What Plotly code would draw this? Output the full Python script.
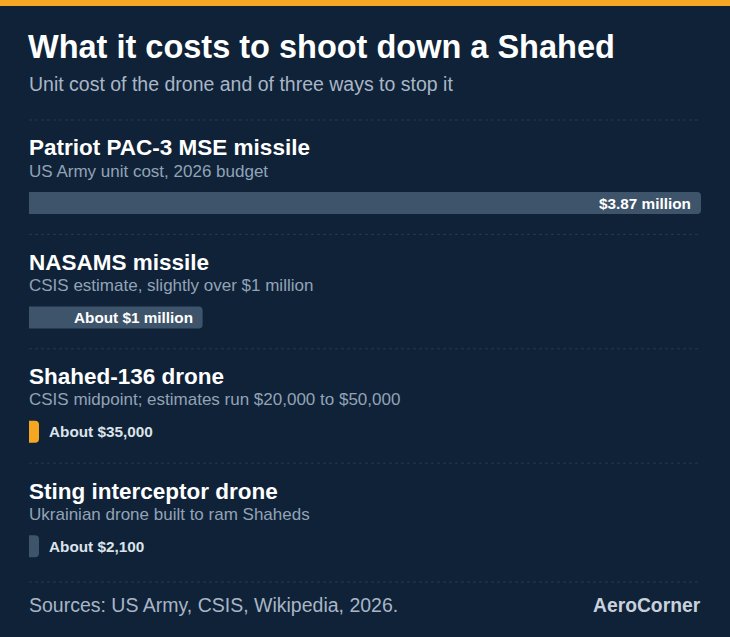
import plotly.graph_objects as go

names = ["Patriot PAC-3 MSE missile", "NASAMS missile", "Shahed-136 drone", "Sting interceptor drone"]
notes = ["US Army unit cost, 2026 budget", "CSIS estimate, slightly over $1 million",
         "CSIS midpoint; estimates run $20,000 to $50,000", "Ukrainian drone built to ram Shaheds"]
costs = [3870000, 1000000, 35000, 2100]
labels = ["$3.87 million", "About $1 million", "About $35,000", "About $2,100"]
colors = ["#3e546b", "#3e546b", "#f5a623", "#3e546b"]

W, H = 730, 637
BG = "#0f2238"
x0, x1 = 29, 701
tx = (x0 - 2) / W
row0, step = 148, 114.4
xmax = max(costs)
minw = xmax * 10 / (x1 - x0)  # minimum visible bar width (10 px)

bar_y = [row0 + 55 + i * step for i in range(len(costs))]
fig = go.Figure(go.Bar(
    x=[max(c, minw) for c in costs], y=bar_y, orientation="h", width=22,
    marker=dict(color=colors, line=dict(width=0)), hoverinfo="skip"))

def py(p):
    return 1 - p / H

ann = []
shapes = [dict(type="rect", xref="paper", yref="paper", x0=0, x1=1, y0=py(6), y1=1,
               fillcolor="#f5a623", line=dict(width=0))]
ann.append(dict(text="<b>What it costs to shoot down a Shahed</b>", x=tx - 0.002, y=py(47),
                font=dict(size=32.5, color="white")))
ann.append(dict(text="Unit cost of the drone and of three ways to stop it", x=tx, y=py(84),
                font=dict(size=19.5, color="#a9b6c6")))
for i, (n, s, c, l) in enumerate(zip(names, notes, costs, labels)):
    top = row0 + i * step
    shapes.append(dict(type="line", xref="paper", yref="paper", x0=x0 / W, x1=x1 / W,
                       y0=py(top - 28), y1=py(top - 28), line=dict(color="#26384f", width=1, dash="dot")))
    ann.append(dict(text=f"<b>{n}</b>", x=tx, y=py(top), font=dict(size=22.5, color="white")))
    ann.append(dict(text=s, x=tx, y=py(top + 23), font=dict(size=17, color="#93a3b6")))
    if i < 2:
        ann.append(dict(text=f"<b>{l}</b>", xref="x", yref="y", x=c, y=bar_y[i], xanchor="right",
                        xshift=-8, yanchor="middle", font=dict(size=15.3, color="white"), showarrow=False))
    else:
        ann.append(dict(text=f"<b>{l}</b>", xref="x", yref="y", x=max(c, minw), y=bar_y[i], xanchor="left",
                        xshift=8, yanchor="middle", font=dict(size=15.3, color="#dde3ea"), showarrow=False))
shapes.append(dict(type="line", xref="paper", yref="paper", x0=x0 / W, x1=x1 / W,
                   y0=py(582), y1=py(582), line=dict(color="#26384f", width=1, dash="dot")))
ann.append(dict(text="Sources: US Army, CSIS, Wikipedia, 2026.", x=tx, y=py(605),
                font=dict(size=19.5, color="#a9b6c6")))
ann.append(dict(text="<b>AeroCorner</b>", x=(x1 + 2) / W, y=py(605), xanchor="right",
                font=dict(size=19.3, color="#c9d2dc")))
for a in ann:
    a.setdefault("xref", "paper"); a.setdefault("yref", "paper")
    a.setdefault("xanchor", "left"); a.setdefault("yanchor", "middle"); a.setdefault("showarrow", False)

fig.update_layout(
    width=W, height=H, margin=dict(l=0, r=0, t=0, b=0),
    paper_bgcolor=BG, plot_bgcolor=BG, showlegend=False, barcornerradius=4,
    font=dict(family="Liberation Sans, Arial, sans-serif"),
    xaxis=dict(domain=[x0 / W, x1 / W], range=[0, xmax], visible=False, fixedrange=True),
    yaxis=dict(domain=[0, 1], range=[H, 0], visible=False, fixedrange=True),
    annotations=ann, shapes=shapes)
fig.write_html("out.html", config={"displayModeBar": False},
               post_script="document.body.style.margin='0';document.body.style.background='%s';" % BG)
